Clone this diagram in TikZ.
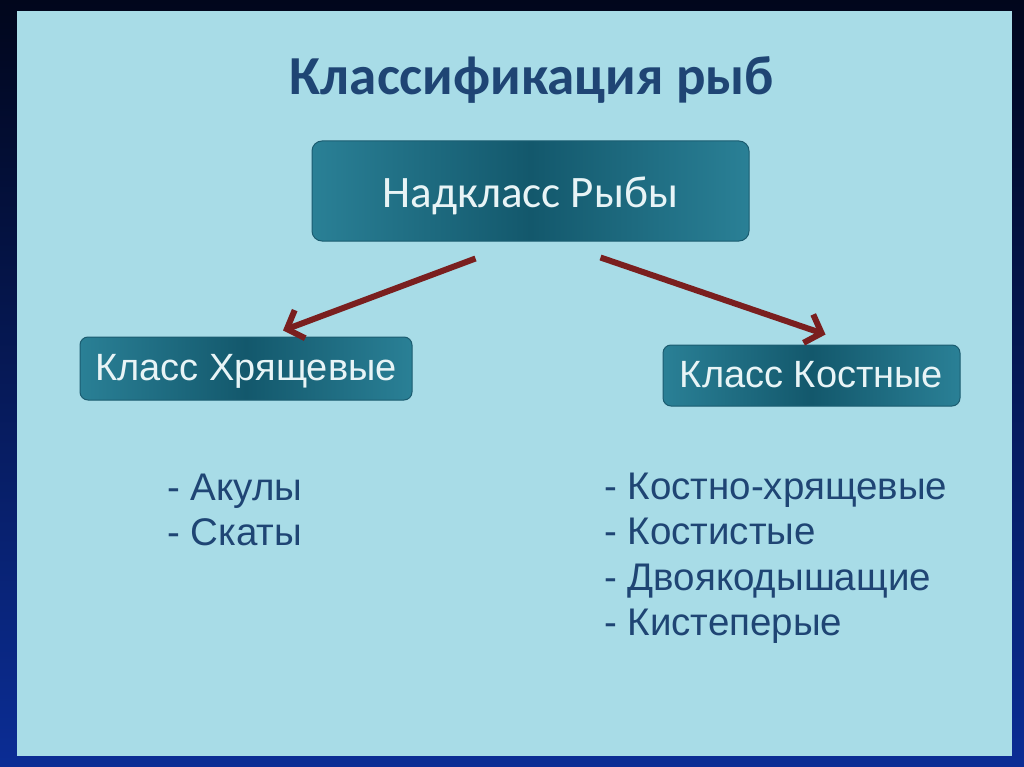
\documentclass[tikz,border=0pt]{standalone}
\usepackage{fontspec}
\setmainfont{Liberation Sans}
\newfontfamily\calib{Carlito}
\usetikzlibrary{arrows.meta,calc}
\definecolor{frametop}{HTML}{01061C}
\definecolor{framebot}{HTML}{0B2D95}
\definecolor{panel}{HTML}{A8DCE7}
\definecolor{boxedge}{HTML}{2A8096}
\definecolor{boxmid}{HTML}{13586C}
\definecolor{boxline}{HTML}{1B5C70}
\definecolor{txtblue}{HTML}{1F4574}
\definecolor{arrowred}{HTML}{7A1F1F}
\definecolor{boxtxt}{HTML}{E8F4F6}
\tikzset{
  classbox/.style={rounded corners=8pt, draw=boxline, line width=1pt,
    left color=boxedge, right color=boxedge, middle color=boxmid,
    text=boxtxt, inner sep=0pt, minimum width=#1,
    text height=23pt, text depth=0pt},
  classbox/.default=300pt,
  linkarrow/.style={draw=arrowred, line width=6pt,
    -{Straight Barb[length=14pt,width=30pt,line width=6pt]}},
  listtext/.style={text=txtblue, align=left, anchor=west, inner sep=0pt,
    font=\fontsize{38.5}{45.5}\selectfont}
}
\begin{document}
\begin{tikzpicture}[x=1pt,y=-1pt]
\useasboundingbox (0,0) rectangle (1024,767);
% frame and panel
\shade[top color=frametop, bottom color=framebot] (0,0) rectangle (1024,767);
\fill[panel] (17,11) rectangle (1012,756);
% title
\node[text=txtblue, font=\calib\bfseries\fontsize{55}{60}\selectfont] (title) at (532,80) {Классификация рыб};
% boxes
\node[classbox=437pt, minimum height=100pt, rounded corners=10pt,
  text height=34pt, font=\calib\fontsize{45}{50}\selectfont] (top) at (530.5,191) {Надкласс Рыбы};
\node[classbox=332pt, minimum height=63pt, font=\fontsize{38}{44}\selectfont]
  (cart) at (246,368.5) {Класс Хрящевые};
\node[classbox=297pt, minimum height=61pt, font=\fontsize{38}{44}\selectfont]
  (bone) at (811.5,375.5) {Класс Костные};
% connectors
\coordinate (lstart) at ($(top.south)+(-55,17)$);
\coordinate (rstart) at ($(top.south)+(70,16)$);
\coordinate (lend) at ($(cart.north)+(37,-6)$);
\coordinate (rend) at ($(bone.north)+(14,-10)$);
\draw[linkarrow] (lstart) -- (lend);
\draw[linkarrow] (rstart) -- (rend);
% lists
\node[listtext] (llist) at (167,510) {- Акулы\\- Скаты};
\node[listtext] (rlist) at (604,558) {- Костно-хрящевые\\- Костистые\\- Двоякодышащие\\- Кистеперые};
\end{tikzpicture}
\end{document}
